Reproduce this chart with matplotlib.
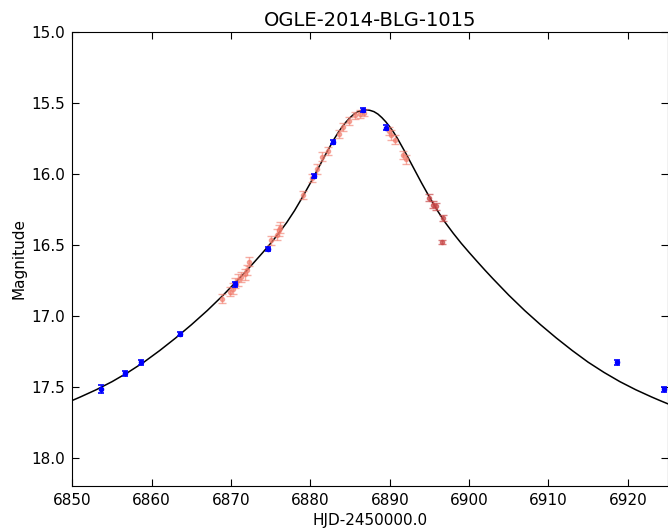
import matplotlib
matplotlib.use('Agg')
import matplotlib.pyplot as plt

# blue photometry (HJD-2450000, mag, err)
blue_t = [6853.6, 6856.6, 6858.7, 6863.6, 6870.5, 6874.7, 6880.5, 6882.8, 6886.6, 6889.5, 6918.6, 6924.6]
blue_mag = [17.52, 17.405, 17.33, 17.13, 16.78, 16.53, 16.015, 15.775, 15.55, 15.675, 17.33, 17.52]
blue_err = [0.028, 0.018, 0.018, 0.015, 0.015, 0.015, 0.015, 0.015, 0.015, 0.015, 0.018, 0.018]

# light red photometry
red_t = [6868.9, 6869.9, 6870.2, 6870.5, 6870.9, 6871.3, 6871.7, 6872.0, 6872.2,
         6875.0, 6875.8, 6876.0, 6876.2, 6879.1, 6880.2, 6880.8, 6881.5, 6882.2,
         6883.6, 6884.1, 6884.8, 6885.6, 6886.2, 6886.7,
         6889.9, 6890.2, 6890.6, 6891.7, 6892.0]
red_mag = [16.88, 16.83, 16.81, 16.77, 16.75, 16.73, 16.71, 16.68, 16.62,
           16.47, 16.43, 16.40, 16.38, 16.15, 16.03, 15.97, 15.88, 15.84,
           15.72, 15.67, 15.63, 15.59, 15.58, 15.57,
           15.70, 15.73, 15.76, 15.87, 15.90]
red_err = [0.03, 0.035, 0.04, 0.035, 0.04, 0.035, 0.04, 0.035, 0.03,
           0.03, 0.04, 0.04, 0.04, 0.03, 0.03, 0.035, 0.03, 0.03,
           0.03, 0.03, 0.03, 0.025, 0.025, 0.025,
           0.03, 0.035, 0.03, 0.03, 0.03]

# darker red photometry
dred_t = [6895.0, 6895.5, 6895.8, 6896.7, 6896.6]
dred_mag = [16.17, 16.22, 16.23, 16.31, 16.48]
dred_err = [0.025, 0.025, 0.025, 0.02, 0.012]

# model light curve
model_t = [6850, 6851, 6853, 6855, 6857, 6859, 6861, 6863, 6865, 6867, 6868,
           6869, 6870, 6871, 6872, 6873, 6874, 6875, 6876, 6877, 6878, 6879,
           6880, 6881, 6882, 6883, 6883.5, 6884, 6884.5, 6885, 6885.5, 6886,
           6886.5, 6887, 6887.5, 6888, 6888.5, 6889, 6889.5, 6890, 6890.5,
           6891, 6892, 6893, 6894, 6895, 6896, 6897, 6898, 6899, 6900, 6901,
           6902, 6903, 6904, 6905, 6906, 6907, 6909, 6911, 6913, 6915, 6917,
           6919, 6921, 6923, 6924, 6925]
model_mag = [17.597, 17.573, 17.522, 17.465, 17.40, 17.328, 17.246, 17.158, 17.064, 16.964, 16.91,
             16.856, 16.798, 16.74, 16.68, 16.618, 16.555, 16.49, 16.42, 16.345, 16.26, 16.165,
             16.065, 15.96, 15.855, 15.755, 15.71, 15.67, 15.635, 15.605, 15.58, 15.563,
             15.554, 15.55, 15.554, 15.563, 15.58, 15.605, 15.635, 15.67, 15.71,
             15.755, 15.855, 15.96, 16.065, 16.165, 16.26, 16.345, 16.42, 16.49, 16.555, 16.618,
             16.68, 16.74, 16.798, 16.856, 16.91, 16.964, 17.064, 17.158, 17.246, 17.328, 17.40,
             17.465, 17.522, 17.573, 17.597, 17.62]

fig = plt.figure(figsize=(6.68, 5.31), dpi=100, facecolor='w')
ax = fig.add_axes([72.4 / 668, 1 - 486 / 531, (667.5 - 72.4) / 668, (486 - 31.7) / 531])

ax.plot(model_t, model_mag, color='k', linewidth=1.1, zorder=1)
ax.errorbar(red_t, red_mag, yerr=red_err, fmt='o', color='#f07868', alpha=0.6,
            markersize=3, capsize=3, capthick=1, elinewidth=1, zorder=2)
ax.errorbar(dred_t, dred_mag, yerr=dred_err, fmt='o', color='#c84848', alpha=0.7,
            markersize=3, capsize=3, capthick=1, elinewidth=1, zorder=2)
ax.errorbar(blue_t, blue_mag, yerr=blue_err, fmt='o', color='#0000ff',
            markersize=3, capsize=2.5, capthick=1.2, elinewidth=1, zorder=3)

ax.set_xlim(6850, 6925)
ax.set_ylim(18.2, 15.0)
ax.set_xticks([6850, 6860, 6870, 6880, 6890, 6900, 6910, 6920])
ax.set_yticks([15.0, 15.5, 16.0, 16.5, 17.0, 17.5, 18.0])
ax.set_yticklabels(['15.0', '15.5', '16.0', '16.5', '17.0', '17.5', '18.0'])
ax.tick_params(direction='in', top=True, right=True, length=5, labelsize=11, pad=5)

ax.set_xlabel('HJD-2450000.0', fontsize=11, labelpad=4)
ax.set_ylabel('Magnitude', fontsize=11)
ax.set_title('OGLE-2014-BLG-1015', fontsize=14, pad=4)

fig.savefig('out.png', dpi=100)
